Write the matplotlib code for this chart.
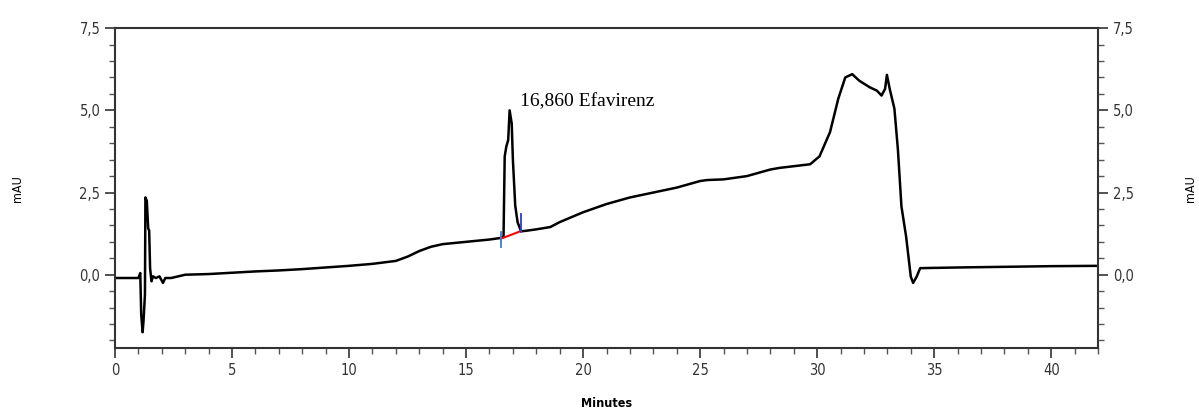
import numpy as np
import matplotlib.pyplot as plt
from matplotlib.ticker import MultipleLocator, FuncFormatter

# chromatogram trace (minutes, mAU)
minutes = [0.0, 1.0, 1.08, 1.12, 1.18, 1.22, 1.28, 1.3, 1.36, 1.42, 1.46, 1.5, 1.56, 1.62,
           1.75, 1.9, 2.05, 2.15, 2.4, 3.0, 4.0, 5.0, 6.0, 7.0, 8.0, 9.0, 10.0, 11.0,
           12.0, 12.5, 13.0, 13.5, 14.0, 15.0, 16.0, 16.5, 16.6, 16.65, 16.72, 16.8,
           16.86, 16.95, 17.0, 17.1, 17.2, 17.35, 17.6, 18.0, 18.6, 19.0, 20.0, 21.0,
           22.0, 23.0, 24.0, 25.0, 25.3, 26.0, 27.0, 28.0, 28.4, 29.7, 30.1, 30.55,
           30.9, 31.2, 31.5, 31.8, 32.25, 32.55, 32.75, 32.9, 32.98, 33.1, 33.3,
           33.45, 33.6, 33.8, 34.0, 34.1, 34.25, 34.4, 36.0, 38.0, 40.0, 42.0]
mau = [-0.1, -0.1, 0.05, -1.2, -1.75, -1.4, -0.6, 2.35, 2.25, 1.4, 1.35, 0.2, -0.2, -0.05,
       -0.1, -0.05, -0.25, -0.1, -0.1, 0.0, 0.02, 0.06, 0.1, 0.13, 0.17, 0.22, 0.27, 0.33,
       0.42, 0.55, 0.72, 0.85, 0.93, 1.0, 1.07, 1.12, 1.15, 3.6, 3.9, 4.1,
       5.0, 4.6, 3.5, 2.1, 1.6, 1.32, 1.34, 1.38, 1.45, 1.6, 1.9, 2.15,
       2.35, 2.5, 2.65, 2.85, 2.88, 2.9, 3.0, 3.2, 3.25, 3.36, 3.6, 4.34,
       5.35, 6.0, 6.1, 5.9, 5.7, 5.6, 5.45, 5.65, 6.08, 5.65, 5.05,
       3.8, 2.08, 1.16, -0.06, -0.25, -0.06, 0.2, 0.22, 0.24, 0.26, 0.27]

# integration baseline of the Efavirenz peak
base_x = [16.5, 17.35]
base_y = [1.1, 1.33]
peak_label = "16,860 Efavirenz"
peak_pos = (17.3, 5.12)

fig = plt.figure(figsize=(11.99, 4.08), dpi=100)
ax = fig.add_axes([0.0959, 0.147, 0.8199, 0.784])

ax.plot(minutes, mau, color='black', lw=1.8)
ax.plot(base_x, base_y, color='red', lw=1.5)
ax.plot([base_x[0], base_x[0]], [0.85, 1.3], color='#3a7bd5', lw=1.3)
ax.plot([base_x[1], base_x[1]], [1.3, 1.85], color='#2a3bd0', lw=1.3)
ax.text(peak_pos[0], peak_pos[1], peak_label, family='Liberation Serif', fontsize=14)

ax.set_xlim(0, 42)
ax.set_ylim(-2.23, 7.5)
ax.xaxis.set_major_locator(MultipleLocator(5))
ax.xaxis.set_minor_locator(MultipleLocator(1))
ax.yaxis.set_major_locator(MultipleLocator(2.5))
ax.yaxis.set_minor_locator(MultipleLocator(0.5))
ax.yaxis.set_major_formatter(FuncFormatter(lambda v, p: f"{v:.1f}".replace('.', ',')))

tick_font = ['DejaVu Sans']
ax.tick_params(which='major', length=7, width=1.2, colors='#333333', labelsize=10.5)
ax.tick_params(which='minor', length=4, width=1.0, colors='#555555')
ax.tick_params(axis='y', which='both', right=True, labelright=True)
for lab in ax.get_xticklabels() + ax.get_yticklabels():
    lab.set_family(tick_font)
    lab.set_stretch('condensed')
for s in ax.spines.values():
    s.set_linewidth(1.5)
    s.set_color('#333333')

ax.set_xlabel("Minutes", family=tick_font, stretch='condensed', fontsize=9,
              fontweight='bold', labelpad=14)
ax.set_ylabel("mAU", family=tick_font, stretch='condensed', fontsize=9, labelpad=40)
ax.text(1.094, 0.5, "mAU", transform=ax.transAxes, rotation=90, va='center',
        ha='center', family=tick_font, stretch='condensed', fontsize=9)

fig.savefig('out.png', dpi=100)
